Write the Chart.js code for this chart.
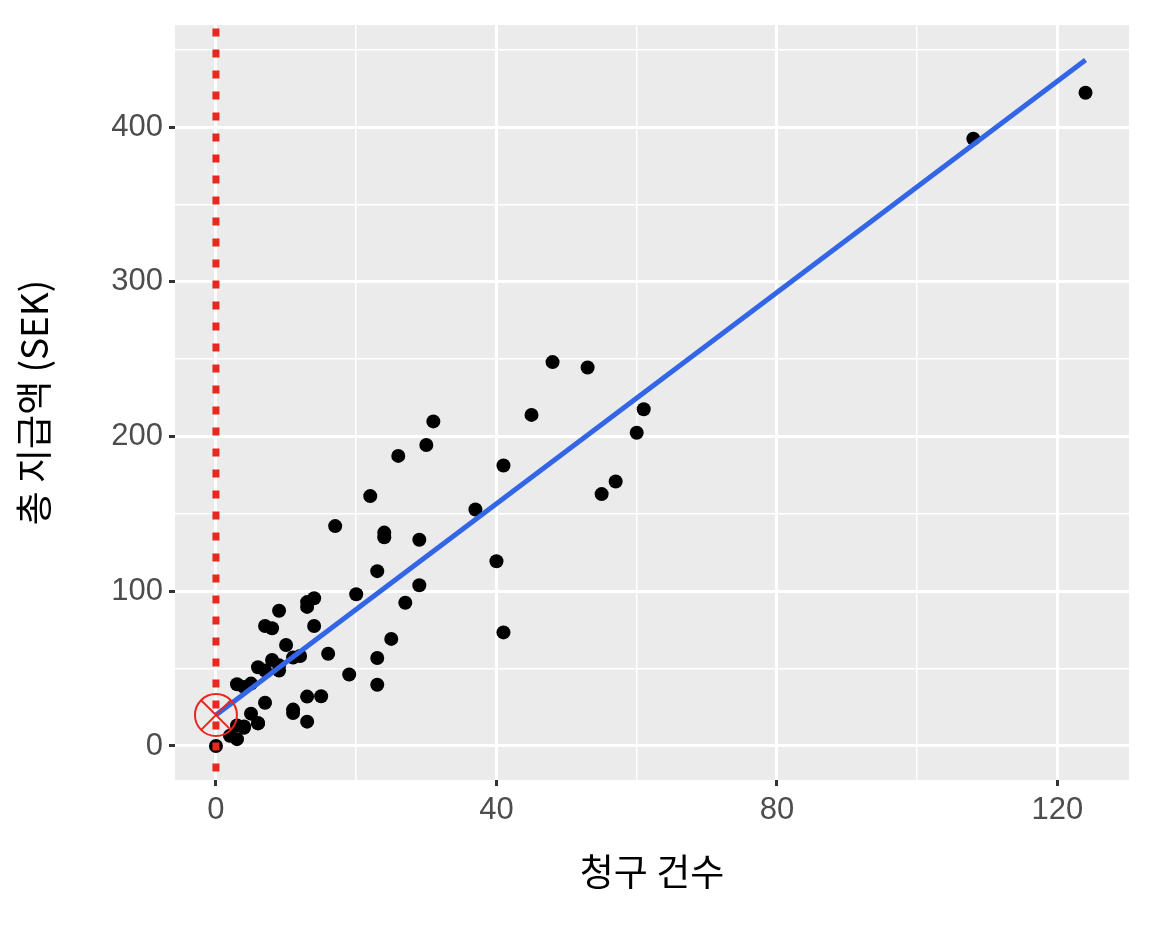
<!DOCTYPE html>
<html><head><meta charset="utf-8">
<script src="https://cdn.jsdelivr.net/npm/chart.js@4"></script>
<style>html,body{margin:0;background:#fff}#wrap{width:1152px;height:928px}</style>
</head><body><div id="wrap"><canvas id="c"></canvas></div>
<script>
// numero di richieste (X) e pagamento totale (Y)
const claims = [108,19,13,124,40,57,23,14,45,10,5,48,11,23,7,2,24,6,3,23,6,9,9,3,29,7,4,20,7,4,0,25,6,5,22,11,61,12,4,16,13,60,41,37,55,41,11,27,8,3,17,13,13,15,8,29,30,24,9,31,14,53,26];
const payment = [392.5,46.2,15.7,422.2,119.4,170.9,56.9,77.5,214,65.3,20.9,248.1,23.5,39.6,48.8,6.6,134.9,50.9,4.4,113,14.8,48.7,52.1,13.2,103.9,77.5,11.8,98.1,27.9,38.1,0,69.2,14.6,40.3,161.5,57.2,217.6,58.1,12.6,59.6,89.9,202.4,181.3,152.8,162.8,73.4,21.3,92.6,76.1,39.9,142.1,93,31.9,32.1,55.6,133.3,194.5,137.9,87.4,209.8,95.5,244.6,187.5];
const fitX = [0, 124];
const fitY = [19.99, 19.99 + 3.414 * 124];
const intercept = {x: 0, y: 19.99};
const xTicks = [0, 40, 80, 120];

const points = claims.map((x, i) => ({x: x, y: payment[i]}));

const bgPlugin = {
  id: 'bg',
  beforeDraw(chart) {
    const a = chart.chartArea, ctx = chart.ctx;
    ctx.save();
    ctx.fillStyle = '#ebebeb';
    ctx.fillRect(a.left, a.top, a.right - a.left, a.bottom - a.top);
    ctx.restore();
  }
};

new Chart(document.getElementById('c'), {
  type: 'scatter',
  data: {
    datasets: [
      {data: points, pointRadius: 7, pointBackgroundColor: '#000', pointBorderWidth: 0, order: 3},
      {type: 'line', data: [{x: fitX[0], y: fitY[0]}, {x: fitX[1], y: fitY[1]}], borderColor: '#3366e6', borderWidth: 5, pointRadius: 0, order: 2},
      {type: 'line', data: [{x: 0, y: -30}, {x: 0, y: 480}], borderColor: '#e8281e', borderWidth: 7, borderDash: [8, 13], pointRadius: 0, order: 1},
      {data: [intercept], pointStyle: 'circle', pointRadius: 21, pointBackgroundColor: 'rgba(0,0,0,0)', pointBorderColor: '#e8281e', pointBorderWidth: 2, order: 0},
      {data: [intercept], pointStyle: 'crossRot', pointRadius: 21, pointBorderColor: '#e8281e', pointBorderWidth: 2, order: 0}
    ]
  },
  options: {
    responsive: true, maintainAspectRatio: false, animation: false,
    layout: {padding: {top: 25, right: 22, bottom: 30}},
    plugins: {legend: {display: false}, tooltip: {enabled: false}},
    scales: {
      x: {
        type: 'linear', min: -5.84, max: 130.2,
        afterBuildTicks(s) { s.ticks = [0, 20, 40, 60, 80, 100, 120].map(v => ({value: v})); },
        ticks: {color: '#4d4d4d', font: {size: 31, family: 'Liberation Sans'}, padding: 6,
          callback: v => xTicks.includes(v) ? v : ''},
        grid: {color: '#fff', lineWidth: c => xTicks.includes(c.tick.value) ? 3 : 1.5,
          drawTicks: true, tickLength: 6, tickColor: c => xTicks.includes(c.tick.value) ? '#333' : 'rgba(0,0,0,0)'},
        border: {display: false},
        title: {display: true, text: '청구 건수', color: '#000', font: {size: 37, family: 'Noto Sans CJK KR'}, padding: {top: 4}},
        afterFit(s) { s.height = 118; }
      },
      y: {
        min: -22, max: 466,
        afterBuildTicks(s) { s.ticks = [0, 50, 100, 150, 200, 250, 300, 350, 400, 450].map(v => ({value: v})); },
        ticks: {color: '#4d4d4d', font: {size: 31, family: 'Liberation Sans'}, padding: 6,
          callback: v => v % 100 === 0 ? v : ''},
        grid: {color: '#fff', lineWidth: c => c.tick.value % 100 === 0 ? 3 : 1.5,
          tickLength: 6, tickColor: c => c.tick.value % 100 === 0 ? '#333' : 'rgba(0,0,0,0)'},
        border: {display: false},
        title: {display: true, text: '총 지급액 (SEK)', color: '#000', font: {size: 37, family: 'Noto Sans CJK KR'}, padding: {top: 12}},
        afterFit(s) { s.width = 175; }
      }
    }
  },
  plugins: [bgPlugin]
});
</script></body></html>
